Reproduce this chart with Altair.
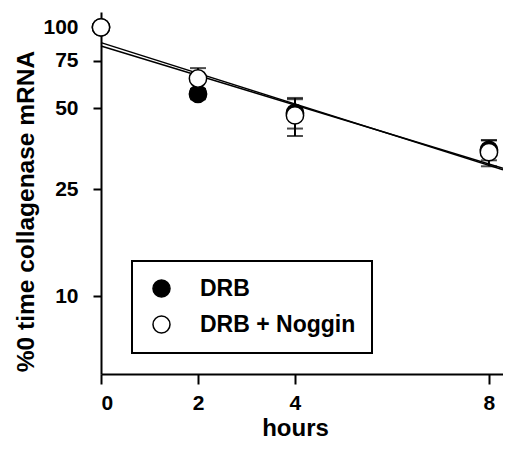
import altair as alt
import pandas as pd

# ---- data ----
hours = [0, 2, 4, 8]
series_names = ["DRB", "DRB + Noggin"]

drb_mean = [100, 56.5, 48, 35]
drb_low = [100, 54, 42, 32]
drb_high = [100, 59, 54, 38]

nog_mean = [100, 64.5, 47, 34.3]
nog_low = [100, 59, 39.4, 30.4]
nog_high = [100, 70.5, 54.6, 38]

fit_hours = [0, 8.29]
fit_drb = [85.2, 29.9]
fit_nog = [87.7, 29.5]

y_ticks = [10, 25, 50, 75, 100]
x_ticks = [0, 2, 4, 8]

# ---- tables ----
rows = []
for name, m, lo, hi in [(series_names[0], drb_mean, drb_low, drb_high),
                        (series_names[1], nog_mean, nog_low, nog_high)]:
    for h, a, b, c in zip(hours, m, lo, hi):
        rows.append({"hours": h, "series": name, "mean": a, "low": b, "high": c})
pts = pd.DataFrame(rows)
err = pts[pts["low"] < pts["high"]]

fit_rows = []
for name, vals in [(series_names[0], fit_drb), (series_names[1], fit_nog)]:
    for h, v in zip(fit_hours, vals):
        fit_rows.append({"hours": h, "series": name, "fit": v})
fit = pd.DataFrame(fit_rows)

FONT = "Liberation Sans"

xscale = alt.Scale(domain=[0, 8.29], nice=False, zero=False)
yscale = alt.Scale(type="log", domain=[5.13, 114], nice=False)

xaxis = alt.Axis(values=x_ticks, title="hours", grid=False, tickSize=10, tickWidth=2,
                 domainWidth=2, domainColor="black", tickColor="black",
                 labelFont=FONT, labelFontSize=21, labelFontWeight="bold", labelColor="black",
                 labelPadding=8, titleFont=FONT, titleFontSize=24, titleFontWeight="bold",
                 titleColor="black", titleX=194, titleY=61, titleBaseline="alphabetic",
                 titleAlign="center")
yaxis = alt.Axis(values=y_ticks, title="%0 time collagenase mRNA", grid=False, tickSize=8,
                 tickWidth=2, domainWidth=2, domainColor="black", tickColor="black",
                 labelFont=FONT, labelFontSize=21, labelFontWeight="bold", labelColor="black",
                 labelPadding=15, titleFont=FONT, titleFontSize=24.5, titleFontWeight="bold",
                 titleColor="black", titleX=-68, titleY=199, titleAngle=-90,
                 titleBaseline="alphabetic", titleAlign="center")

lines = alt.Chart(fit).mark_line(color="black", strokeWidth=1.5).encode(
    x=alt.X("hours:Q", scale=xscale, axis=xaxis),
    y=alt.Y("fit:Q", scale=yscale, axis=yaxis),
    detail="series:N",
)

bars = alt.Chart(err).mark_rule(color="black", strokeWidth=2).encode(
    x="hours:Q", y="low:Q", y2="high:Q"
)
caps_hi = alt.Chart(err).mark_tick(color="black", orient="horizontal", size=16,
                                   thickness=2).encode(x="hours:Q", y="high:Q")
caps_lo = alt.Chart(err).mark_tick(color="black", orient="horizontal", size=16,
                                   thickness=2).encode(x="hours:Q", y="low:Q")

points = alt.Chart(pts).mark_point(shape="circle", filled=True, stroke="black",
                                   strokeWidth=1.5, size=300, opacity=1).encode(
    x="hours:Q",
    y="mean:Q",
    fill=alt.Fill("series:N",
                  scale=alt.Scale(domain=series_names, range=["black", "white"]),
                  legend=alt.Legend(title=None, orient="none", legendX=31, legendY=249,
                                    strokeColor="black", padding=16,
                                    symbolType="circle", symbolSize=290,
                                    symbolOffset=2,
                                    symbolStrokeColor="black", symbolStrokeWidth=1.5,
                                    symbolOpacity=1,
                                    labelFont=FONT, labelFontSize=23, labelLimit=400,
                                    labelFontWeight="bold", labelColor="black",
                                    labelOffset=27, rowPadding=11)),
)

chart = alt.layer(lines, bars, caps_hi, caps_lo, points).properties(
    width=402, height=362,
    autosize=alt.AutoSizeParams(type="none"),
    padding={"left": 93, "top": 4, "right": 0, "bottom": 67},
).configure_view(stroke=None).configure_legend(strokeWidth=2)

chart.save("out.html", embed_options={"renderer": "svg", "actions": False})
